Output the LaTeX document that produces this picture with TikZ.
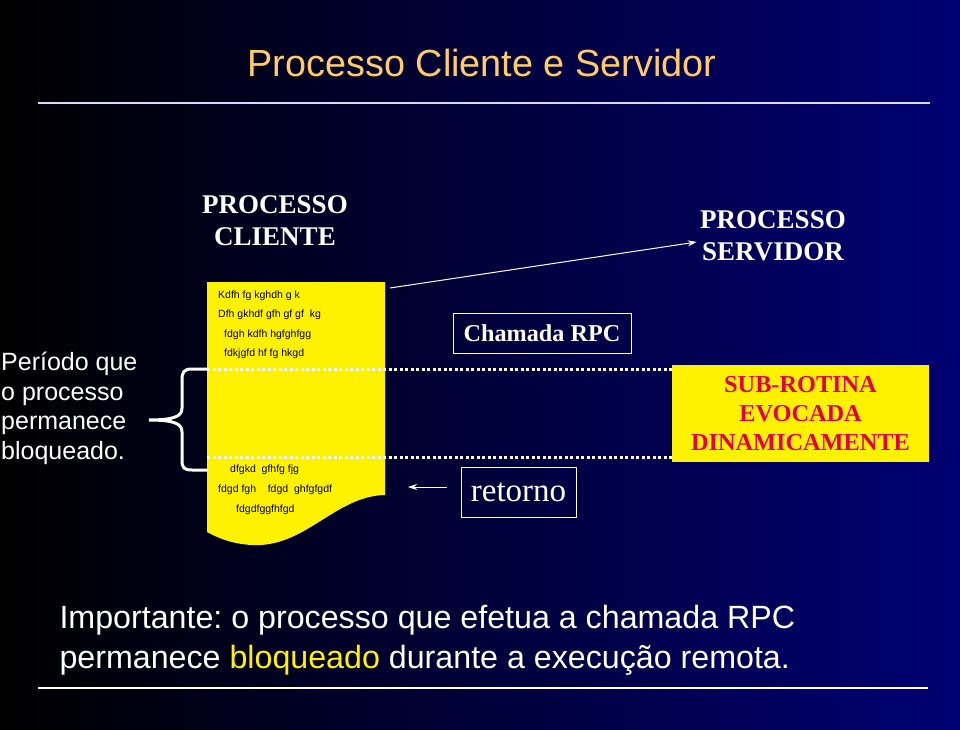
\documentclass[tikz,border=0pt]{standalone}
\usepackage{fontspec}
\setmainfont{Liberation Serif}
\setsansfont{Liberation Sans}
\usetikzlibrary{arrows.meta}
\definecolor{navy}{RGB}{0,0,115}
\definecolor{titlegold}{RGB}{255,204,102}
\definecolor{subred}{RGB}{225,0,70}
\frenchspacing
\begin{document}
\begin{tikzpicture}[x=1pt, y=-1pt,
    bigtitle/.style={font=\sffamily\fontsize{37.8}{38}\selectfont, text=titlegold},
    proc/.style={font=\rmfamily\bfseries\fontsize{27}{32}\selectfont, text=white, align=center},
    doctext/.style={font=\sffamily\fontsize{10.5}{12}\selectfont, anchor=west, inner sep=0pt},
    rpcbox/.style={draw=white, line width=1pt, text=white, inner sep=0pt},
    dotline/.style={white, line width=3pt, dash pattern=on 3pt off 2.5pt},
    note/.style={font=\sffamily\fontsize{32.2}{40}\selectfont, text=white, anchor=west, align=left}]
  % background and frame
  \useasboundingbox (0,0) rectangle (960,730);
  \shade[left color=black, right color=navy] (0,0) rectangle (960,730);
  \draw[white!85!blue, line width=2pt] (38,103) -- (930,103);
  \draw[white, line width=2pt] (38,688) -- (928,688);
  \node[bigtitle] (title) at (482,63) {Processo Cliente e Servidor};
  % the two processes
  \node[proc] (cliente) at (275,221) {PROCESSO\\CLIENTE};
  \node[proc] (servidor) at (773,236) {PROCESSO\\SERVIDOR};
  % client program page with a torn lower edge
  \fill[yellow] (207,282) -- (385,282) -- (385,495)
    .. controls (335,496) and (305,548) .. (252,545)
    .. controls (232,544) and (218,538) .. (207,532) -- cycle;
  \coordinate (doctop) at (390,288);
  \coordinate (callout) at (207,369);
  \coordinate (backin) at (207,457);
  \node[doctext] (l1) at (218,296) {Kdfh fg kghdh g k};
  \node[doctext] (l2) at (218,315) {Dfh gkhdf gfh gf gf\ \ kg};
  \node[doctext] (l3) at (224,335) {fdgh kdfh hgfghfgg};
  \node[doctext] (l4) at (224,354) {fdkjgfd hf fg hkgd};
  \node[doctext] (l5) at (230,470) {dfgkd\ \ gfhfg fjg};
  \node[doctext] (l6) at (218,490) {fdgd fgh\ \ \ \ fdgd\ \ ghfgfgdf};
  \node[doctext] (l7) at (236,510) {fdgdfggfhfgd};
  % blocked period
  \node[note, font=\sffamily\fontsize{25}{29.5}\selectfont, anchor=north west, inner sep=0pt] (periodo) at (1,352)
    {Período que\\o processo\\permanece\\bloqueado.};
  \draw[white, line width=3pt, line cap=round]
    (callout) -- (192,369) .. controls (184,369) and (182,372) .. (182,380)
    -- (182,408) .. controls (182,416) and (175,420) .. (149,420)
    .. controls (175,420) and (182,424) .. (182,432)
    -- (182,460) .. controls (182,468) and (184,470) .. (192,470) -- (207,470);
  % server routine
  \node[fill=yellow, minimum width=257pt, minimum height=97pt, inner sep=0pt,
    font=\rmfamily\bfseries\fontsize{24.3}{29}\selectfont, text=subred, align=center]
    (rotina) at (800.5,413.5) {SUB-ROTINA\\EVOCADA\\DINAMICAMENTE};
  % call and return
  \node[rpcbox, minimum width=178pt, minimum height=40pt,
    font=\rmfamily\bfseries\fontsize{24.2}{24}\selectfont] (chamada) at (542,333) {Chamada RPC};
  \node[rpcbox, minimum width=115pt, minimum height=50pt,
    font=\rmfamily\fontsize{33}{33}\selectfont] (retorno) at (518.5,492) {retorno};
  \draw[dotline] (callout) -- (rotina.west |- callout);
  \draw[dotline] (backin) -- (rotina.west |- backin);
  \draw[white, line width=1pt, -{Stealth[length=9pt, width=6pt]}]
    (doctop) -- (servidor.west |- 0,242);
  \draw[white, line width=1pt, -{Stealth[length=9pt, width=6pt]}]
    (retorno.west |- 0,487) ++(-14,0) -- (408,487);
  % remark
  \node[note] (remark) at (56,640)
    {Importante: o processo que efetua a chamada RPC\\permanece \textcolor{yellow}{bloqueado} durante a execução remota.};
\end{tikzpicture}
\end{document}
